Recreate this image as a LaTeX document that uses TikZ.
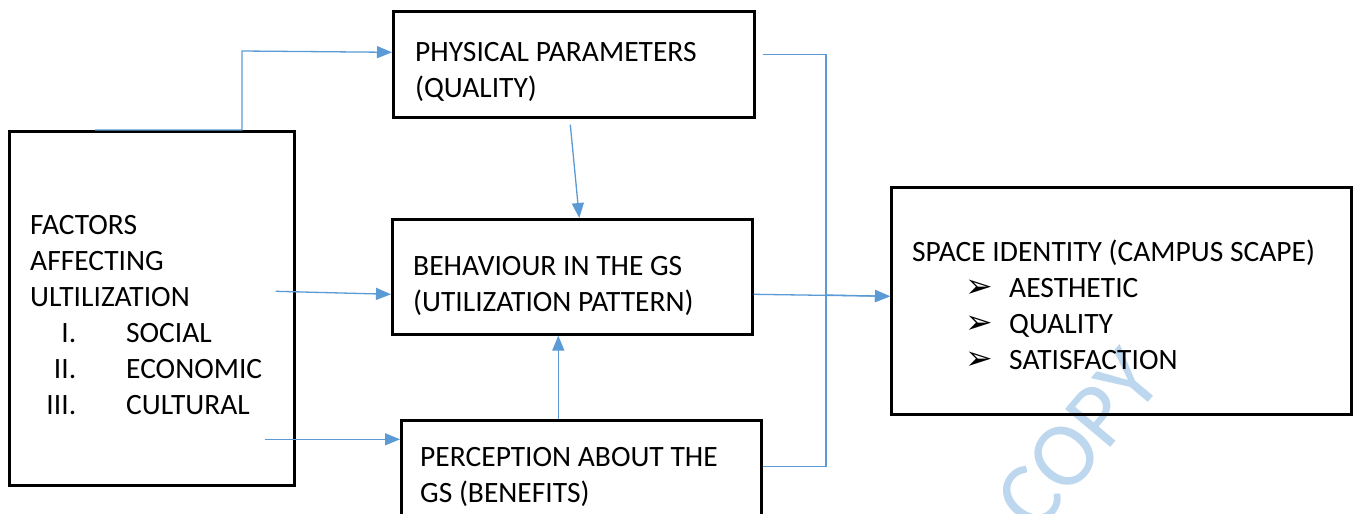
\documentclass[tikz,border=0pt]{standalone}
\usepackage{fontspec}
\setmainfont{Carlito}
\newfontfamily\symfont{DejaVu Sans}
\usetikzlibrary{arrows.meta,calc}
\definecolor{cblue}{HTML}{5B9BD5}
\definecolor{wmblue}{HTML}{BDD7EE}
% left-aligned lines, first baseline is the box baseline
\newcommand\textlines[1]{\vtop{\baselineskip=36pt\lineskiplimit=-100pt\lineskip=0pt\halign{##\hfil\cr#1\crcr}}}
\newcommand\numitem[1]{\makebox[46pt][r]{#1}\hspace{50pt}}
\newcommand\arrowitem{\hspace{53pt}\makebox[44pt][l]{\symfont\fontsize{33}{33}\selectfont ➢}}
\begin{document}
\begin{tikzpicture}[x=1pt,y=-1pt,
  box/.style={draw, line width=2.6pt, rectangle, inner sep=0pt, anchor=north west},
  boxtext/.style={anchor=base west, inner sep=0pt, font=\fontsize{29.5}{36}\selectfont},
  wire/.style={draw=cblue, line width=1.3pt},
  conn/.style={wire, -{Triangle[length=15pt,width=12pt]}}]
\clip (0,0) rectangle (1353,514);
\fill[white] (0,0) rectangle (1353,514);

% watermark
\node[text=wmblue, rotate=50, inner sep=0pt, font=\fontsize{92}{92}\selectfont] (wm) at (1078,440) {COPY};

% boxes
\node[box, minimum width=285pt, minimum height=354pt] (A) at (8,130) {};
\node[box, minimum width=361pt, minimum height=106pt] (P) at (392,10) {};
\node[box, minimum width=360pt, minimum height=115pt] (B) at (391,218) {};
\node[box, minimum width=360pt, minimum height=120pt] (C) at (400,419) {};
\node[box, minimum width=460pt, minimum height=227pt] (S) at (890,186) {};

% box texts
\node[boxtext] (tA) at (30,234) {\textlines{FACTORS\cr AFFECTING\cr ULTILIZATION\cr
  \numitem{I.}SOCIAL\cr \numitem{II.}ECONOMIC\cr \numitem{III.}CULTURAL}};
\node[boxtext] (tP) at (415,61) {\textlines{PHYSICAL PARAMETERS\cr (QUALITY)}};
\node[boxtext] (tB) at (413,275) {\textlines{BEHAVIOUR IN THE GS\cr (UTILIZATION PATTERN)}};
\node[boxtext] (tC) at (420,466) {\textlines{PERCEPTION ABOUT THE\cr GS (BENEFITS)}};
\node[boxtext] (tS) at (912,261) {\textlines{SPACE IDENTITY (CAMPUS SCAPE)\cr
  \arrowitem AESTHETIC\cr \arrowitem QUALITY\cr \arrowitem SATISFACTION}};

% connectors
\coordinate (j) at (826,295);
\coordinate (sIn) at ([yshift=4.5pt]S.west);
\draw[conn] ([xshift=87pt]A.north west) -| (242,51) -- ([yshift=12pt]P.west);
\draw[conn] ([xshift=-3.5pt,yshift=-6pt]P.south) -- ([xshift=7pt]B.north);
\draw[conn] ([xshift=-20pt,yshift=17pt]A.east) -- ([yshift=-17.5pt]B.west);
\draw[conn] ([xshift=-31pt,yshift=-131pt]A.east) -- ([yshift=41pt]C.west);
\draw[conn] ([xshift=-23pt]C.north) -- ([xshift=-14pt]B.south);
\draw[wire] ([xshift=7pt,yshift=10pt]P.east) -| (j);
\draw[wire] ([yshift=14pt]C.east) -| (j);
\draw[conn] (j) -- (sIn);
\draw[conn] ([yshift=-17.5pt]B.east) -- (sIn);
\end{tikzpicture}
\end{document}
